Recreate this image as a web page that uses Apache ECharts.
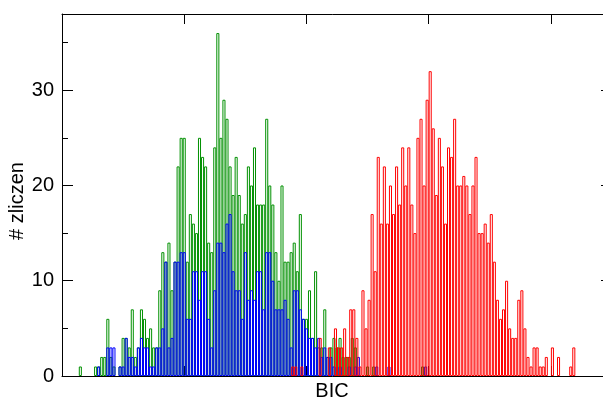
<!DOCTYPE html>
<html>
<head>
<meta charset="utf-8">
<script src="https://cdn.jsdelivr.net/npm/echarts@6/dist/echarts.min.js"></script>
<style>
  html, body { margin: 0; padding: 0; background: #ffffff; }
  #chart { width: 603px; height: 398px; }
</style>
</head>
<body>
<div id="chart"></div>
<script>
// Histogram counts per bin (bin width = 1 unit on the x axis).
// Each histogram starts at its own low edge.
const greenBinStart = 5.5;
const greenCounts = [
  1, 0, 0, 0, 0, 1, 1, 2, 2, 6, 2, 1, 0, 1, 4, 4, 3, 7, 2, 3,
  7, 6, 4, 5, 3, 3, 9, 13, 12, 14, 9, 12, 22, 25, 25, 12, 17, 16, 15, 25,
  23, 22, 14, 13, 24, 36, 25, 29, 27, 22, 19, 23, 19, 16, 17, 22, 20, 24, 18, 18,
  18, 27, 20, 18, 13, 10, 20, 12, 12, 13, 14, 11, 17, 6, 6, 9, 4, 11, 3, 3,
  7, 2, 3, 4, 3, 4, 2, 2, 2, 4, 3, 0, 0, 0, 1, 0, 1, 0, 0, 0,
  0, 0, 0, 0, 0, 0, 0, 0, 0, 0, 0, 0, 1
];

const blueBinStart = 11.5;
const blueCounts = [
  1, 0, 0, 3, 3, 3, 0, 1, 1, 4, 2, 2, 1, 3, 4, 3, 3, 1, 1, 3,
  3, 5, 12, 3, 4, 12, 12, 13, 13, 6, 6, 11, 11, 8, 11, 11, 6, 3, 9, 14,
  14, 13, 16, 17, 11, 9, 9, 6, 13, 8, 9, 8, 11, 11, 7, 13, 13, 10, 7, 7,
  7, 8, 6, 3, 9, 9, 7, 6, 5, 4, 4, 3, 4, 2, 3, 2, 2, 1, 0, 1,
  0, 0, 1, 0, 1, 2, 0, 0, 0, 0, 0, 1, 0, 0, 0, 1, 0, 0, 0, 0,
  0, 0, 0, 0, 0, 0, 0, 1
];

const redBinStart = 75;
const redCounts = [
  1, 1, 0, 1, 0, 0, 0, 0, 0, 4, 0, 0, 3, 0, 5, 3, 3, 5, 2, 7,
  7, 4, 1, 9, 5, 8, 17, 11, 23, 16, 22, 16, 20, 17, 22, 18, 24, 20, 24, 18,
  15, 25, 27, 20, 29, 32, 26, 19, 25, 22, 16, 24, 23, 27, 20, 20, 21, 20, 17, 20,
  23, 15, 15, 16, 14, 17, 12, 8, 6, 7, 10, 5, 4, 4, 8, 9, 5, 2, 1, 3,
  3, 1, 1, 2, 0, 3, 0, 2, 0, 0, 0, 1, 3
];

// Axis ticks
const yTickLabels = [0, 10, 20, 30];
const yMax = 38;
const xMin = 0;
const xMax = 180;
const xTickStep = 40;

const gridLeft = 62, gridTop = 14, gridWidth = 550, gridHeight = 362;
const binPixelWidth = gridWidth / (xMax - xMin);

function toBars(start, counts) {
  const out = [];
  counts.forEach((c, i) => {
    if (c > 0) out.push([start + i + 0.5, c]);
  });
  return out;
}

const fontFamily = "'Liberation Sans', Arial, Helvetica, sans-serif";
const ink = '#000000';

function histSeries(name, color, start, counts) {
  return {
    name: name,
    type: 'bar',
    xAxisIndex: 0,
    yAxisIndex: 0,
    barWidth: binPixelWidth,
    barGap: '-100%',
    data: toBars(start, counts),
    itemStyle: {
      color: 'rgba(255,255,255,0)',
      borderColor: color,
      borderWidth: 1
    },
    emphasis: { disabled: true },
    silent: true
  };
}

const frameAxisX = (pos, extra) => Object.assign({
  type: 'value',
  position: pos,
  min: xMin,
  max: xMax,
  interval: xTickStep,
  axisLine: { show: true, onZero: false, lineStyle: { color: ink, width: 1 } },
  axisTick: { show: true, inside: true, length: 10, lineStyle: { color: ink, width: 1 } },
  axisLabel: { show: false },
  splitLine: { show: false }
}, extra || {});

const chart = echarts.init(document.getElementById('chart'), null, { renderer: 'canvas' });
chart.setOption({
  animation: false,
  backgroundColor: '#ffffff',
  grid: {
    left: gridLeft, top: gridTop, width: gridWidth, height: gridHeight,
    containLabel: false,
    outerBoundsMode: 'none'
  },
  xAxis: [
    frameAxisX('bottom', {
      name: 'BIC',
      nameLocation: 'middle',
      nameGap: 5,
      nameMoveOverlap: false,
      nameTextStyle: { fontFamily: fontFamily, fontSize: 20, color: ink, padding: [0, 10, 0, 0] }
    }),
    frameAxisX('top')
  ],
  yAxis: [
    {
      type: 'value',
      position: 'left',
      min: 0,
      max: yMax,
      interval: 5,
      axisLine: { show: true, onZero: false, lineStyle: { color: ink, width: 1 } },
      axisTick: { show: true, inside: true, length: 6, lineStyle: { color: ink, width: 1 } },
      axisLabel: {
        show: true,
        margin: 8,
        fontFamily: fontFamily,
        fontSize: 20,
        color: ink,
        formatter: v => (yTickLabels.indexOf(v) >= 0 ? String(v) : '')
      },
      splitLine: { show: false },
      name: '# zliczen',
      nameLocation: 'middle',
      nameGap: 35,
      nameMoveOverlap: false,
      nameTextStyle: { fontFamily: fontFamily, fontSize: 20, color: ink, padding: [0, 12, 0, 0] }
    },
    {
      type: 'value',
      position: 'left',
      min: 0,
      max: yMax,
      interval: 10,
      axisLine: { show: false },
      axisTick: { show: true, inside: true, length: 11, lineStyle: { color: ink, width: 1 } },
      axisLabel: { show: false },
      splitLine: { show: false }
    },
    {
      type: 'value',
      position: 'right',
      min: 0,
      max: yMax,
      interval: 10,
      axisLine: { show: true, onZero: false, lineStyle: { color: ink, width: 1 } },
      axisTick: { show: true, inside: true, length: 11, lineStyle: { color: ink, width: 1 } },
      axisLabel: { show: false },
      splitLine: { show: false }
    }
  ],
  series: [
    histSeries('green', '#009000', greenBinStart, greenCounts),
    histSeries('blue', '#0000ff', blueBinStart, blueCounts),
    histSeries('red', '#ff0000', redBinStart, redCounts)
  ]
});
</script>
</body>
</html>
